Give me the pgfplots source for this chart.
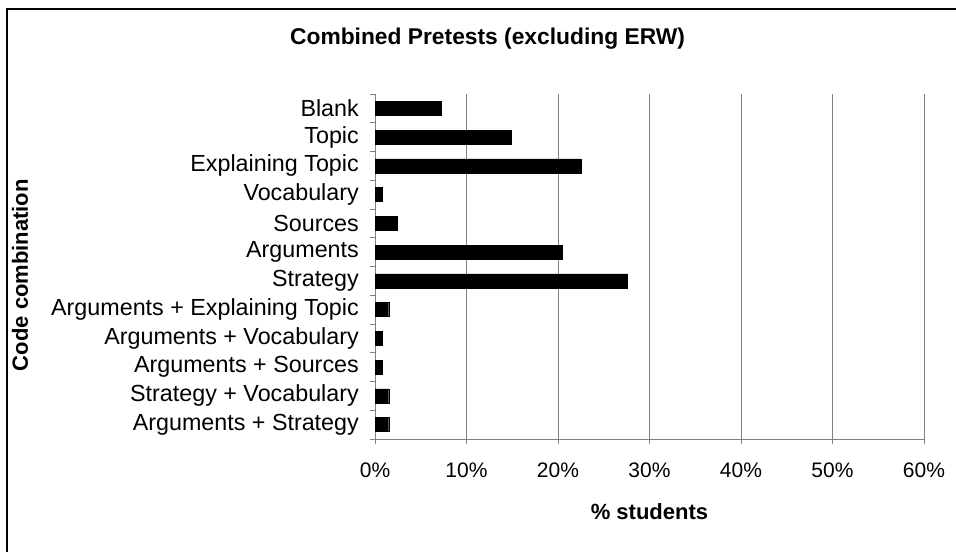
\documentclass[border=0pt]{standalone}
\usepackage{pgfplots}
\pgfplotsset{compat=1.18}
\usepackage{fontspec}
\setmainfont{Liberation Sans}
\definecolor{gridgray}{RGB}{128,128,128}
\newcommand{\num}{\fontsize{21bp}{25bp}\selectfont}
\newcommand{\lbl}{\fontsize{23.3bp}{27bp}\selectfont}
\newcommand{\axl}{\fontsize{22bp}{26bp}\selectfont\bfseries}
\newcommand{\ttl}{\fontsize{22.8bp}{27bp}\selectfont\bfseries}
\begin{document}
\begin{tikzpicture}
\useasboundingbox (0,0) rectangle (956bp,552bp);
\fill[white] (0,0) rectangle (956bp,552bp);
\draw[line width=2bp] (7bp,0) -- (7bp,542.5bp) -- (957bp,542.5bp);
\begin{axis}[
    at={(375bp,113bp)}, anchor=south west,
    scale only axis,
    width=549bp, height=345bp,
    xbar, bar width=14bp,
    xmin=0, xmax=60,
    ymin=-0.5, ymax=11.5,
    y dir=reverse,
    axis lines=left,
    axis line style={-, gridgray, line width=1bp},
    tick align=outside,
    major tick length=5bp,
    tick style={gridgray, line width=1bp},
    xtick={0,10,20,30,40,50,60},
    xticklabels={0\%,10\%,20\%,30\%,40\%,50\%,60\%},
    xticklabel style={font=\num, inner sep=0pt, anchor=north, yshift=-19bp},
    xmajorgrids,
    grid style={gridgray, line width=1bp},
    ytick={-0.5,0.5,...,11.5},
    yticklabels={},
    extra y ticks={0,1,2,3,4,5,6,7,8,9,10,11},
    extra y tick labels={Blank,Topic,Explaining Topic,Vocabulary,Sources,Arguments,Strategy,Arguments + Explaining Topic,Arguments + Vocabulary,Arguments + Sources,Strategy + Vocabulary,Arguments + Strategy},
    extra y tick style={major tick length=0pt, yticklabel style={font=\lbl, inner sep=0pt, anchor=east, xshift=-16bp}},
    /pgf/number format/assume math mode=true,
    xlabel={\% students},
    xlabel style={font=\axl, at={(axis description cs:0.5,-0.2116)}, anchor=center},
    ylabel={Code combination},
    ylabel style={font=\axl, at={(axis description cs:-0.6466,0.475)}, anchor=center, rotate=0},
    title={Combined Pretests (excluding ERW)},
    title style={font=\ttl, at={(axis description cs:0.205,1.142)}, anchor=center},
]
\addplot[fill=black, draw=black] coordinates {
    (7.2,0) (14.9,1) (22.5,2) (0.8,3) (2.4,4) (20.5,5)
    (27.6,6) (1.5,7) (0.8,8) (0.8,9) (1.5,10) (1.5,11)
};
\end{axis}
\end{tikzpicture}
\end{document}
